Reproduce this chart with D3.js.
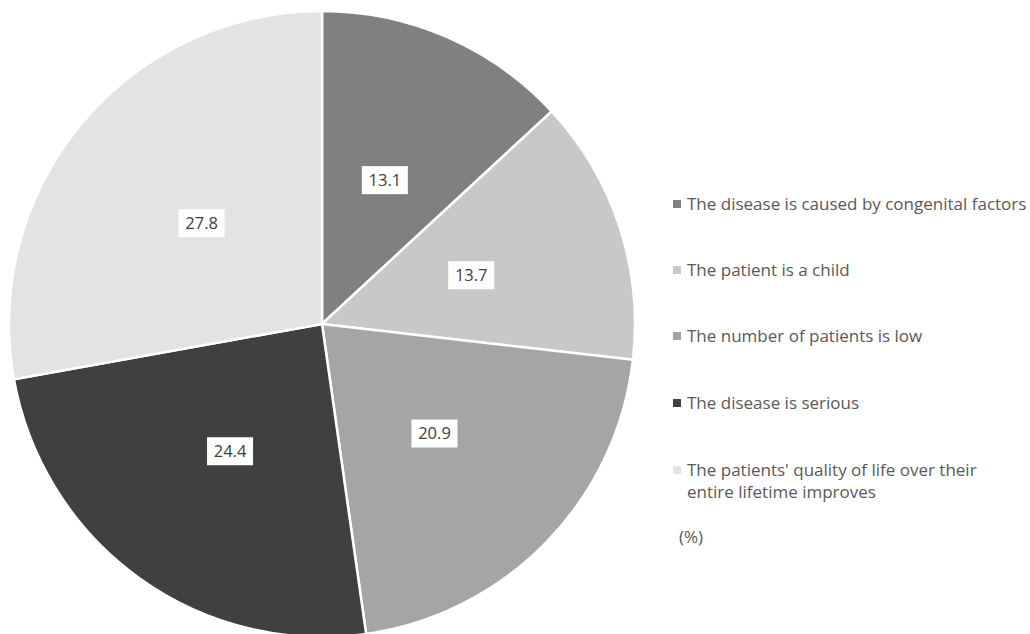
<!DOCTYPE html>
<html>
<head>
<meta charset="utf-8">
<script src="https://cdn.jsdelivr.net/npm/d3@7"></script>
<style>
  html, body { margin: 0; padding: 0; background: #ffffff; }
  svg { display: block; }
</style>
</head>
<body>
<svg id="chart" width="1030" height="634"></svg>
<script>
// Reasons given, share of respondents (%)
const categories = [
  "The disease is caused by congenital factors",
  "The patient is a child",
  "The number of patients is low",
  "The disease is serious",
  "The patients' quality of life over their entire lifetime improves"
];
const legendLines = [
  ["The disease is caused by congenital factors"],
  ["The patient is a child"],
  ["The number of patients is low"],
  ["The disease is serious"],
  ["The patients' quality of life over their", "entire lifetime improves"]
];
const values = [13.1, 13.7, 20.9, 24.4, 27.8];
const colors = ["#808080", "#c8c8c8", "#a5a5a5", "#404040", "#e3e3e3"];
const unitLabel = "(%)";

const svg = d3.select("#chart");
const cx = 322, cy = 324, radius = 313;
const font = "'Open Sans', 'Noto Sans', sans-serif";

const pie = d3.pie().sort(null).value(d => d)(values);
const arc = d3.arc().innerRadius(0).outerRadius(radius);
const labelArc = d3.arc().innerRadius(157).outerRadius(157);

const g = svg.append("g").attr("transform", `translate(${cx},${cy})`);

g.selectAll("path.slice")
  .data(pie)
  .join("path")
  .attr("class", "slice")
  .attr("d", arc)
  .attr("fill", (d, i) => colors[i])
  .attr("stroke", "#ffffff")
  .attr("stroke-width", 2.5)
  .attr("stroke-linejoin", "round");

// Value labels in white boxes
const labels = g.selectAll("g.lbl")
  .data(pie)
  .join("g")
  .attr("class", "lbl")
  .attr("transform", d => `translate(${labelArc.centroid(d)})`);

labels.append("rect")
  .attr("x", -23).attr("y", -14)
  .attr("width", 46).attr("height", 28)
  .attr("fill", "#ffffff");

labels.append("text")
  .attr("text-anchor", "middle")
  .attr("dy", "0.36em")
  .attr("font-family", font)
  .attr("font-size", 16.5)
  .attr("fill", "#404040")
  .text(d => d.data.toFixed(1));

// Legend
const legendY = [204, 270, 336, 403, 470];
const lg = svg.append("g");
const items = lg.selectAll("g.item")
  .data(categories)
  .join("g")
  .attr("class", "item")
  .attr("transform", (d, i) => `translate(673,${legendY[i]})`);

items.append("rect")
  .attr("x", 0).attr("y", -4)
  .attr("width", 8).attr("height", 8)
  .attr("fill", (d, i) => colors[i]);

items.append("text")
  .attr("font-family", font)
  .attr("font-size", 17)
  .attr("fill", "#595959")
  .selectAll("tspan")
  .data((d, i) => legendLines[i])
  .join("tspan")
  .attr("x", 14)
  .attr("dy", (d, j) => j === 0 ? "0.36em" : "1.3em")
  .text(d => d);

svg.append("text")
  .attr("x", 679).attr("y", 537)
  .attr("dy", "0.36em")
  .attr("font-family", font)
  .attr("font-size", 17)
  .attr("fill", "#595959")
  .text(unitLabel);
</script>
</body>
</html>
